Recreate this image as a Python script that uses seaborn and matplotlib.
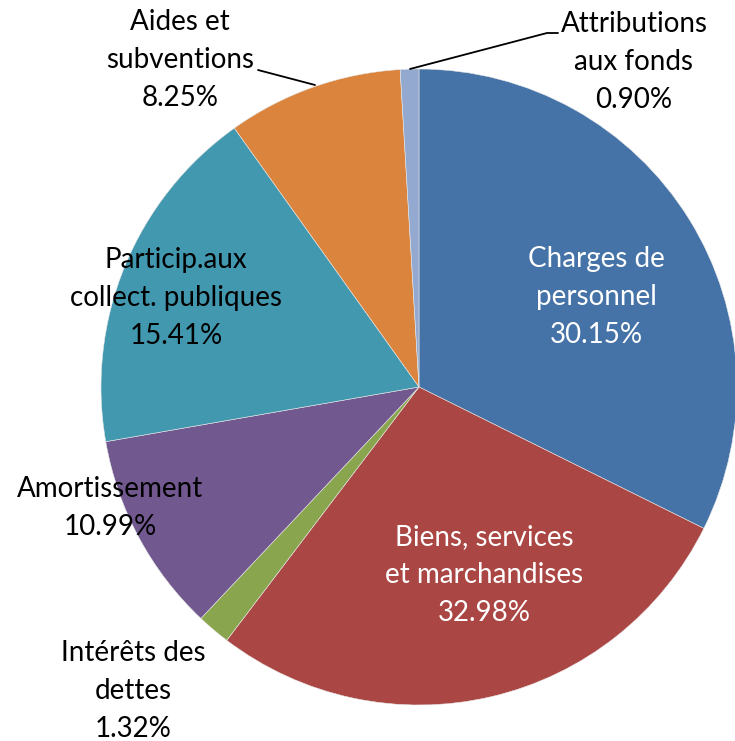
import seaborn as sns
import matplotlib.pyplot as plt

# data
labels = ["Charges de\npersonnel", "Biens, services\net marchandises", "Intérêts des\ndettes",
          "Amortissement", "Particip.aux\ncollect. publiques", "Aides et\nsubventions",
          "Attributions\naux fonds"]
pct_labels = [30.15, 32.98, 1.32, 10.99, 15.41, 8.25, 0.90]
# slice sizes as drawn in the picture (degrees)
wedge_deg = [116.4, 100.8, 6.1, 36.8, 64.4, 32.1, 3.4]
colors = ["#4572A7", "#AA4643", "#89A54E", "#71588F", "#4198AF", "#DB843D", "#93A9CF"]

sns.set_theme(style="white")
plt.rcParams['font.family'] = ['Lato', 'DejaVu Sans']

W, H = 735, 741
fig = plt.figure(figsize=(W / 100, H / 100), dpi=100)
ax = fig.add_axes([0, 0, 1, 1])

cx, cy, r = 419, H - 387, 318
ax.pie(wedge_deg, colors=colors, startangle=90, counterclock=False,
       center=(cx, cy), radius=r, frame=True,
       wedgeprops=dict(linewidth=0.4, edgecolor="#e8e8e8"))
ax.set_xlim(0, W)
ax.set_ylim(0, H)
ax.set_aspect("equal")
ax.axis("off")

# label positions (pixel coords from top)
pos = [(596, 297), (484, 575), (133, 691), (110, 508), (176, 298), (180, 60), (634, 62)]
txtcol = ["white", "white", "black", "black", "black", "black", "black"]
for lab, v, (px, py), c in zip(labels, pct_labels, pos, txtcol):
    ax.text(px, H - py, f"{lab}\n{v:.2f}%", ha="center", va="center",
            fontsize=20, color=c, linespacing=1.55)

# leader lines
ax.plot([258, 315], [H - 70, H - 85], color="black", lw=1.3)
ax.plot([410, 547, 558], [H - 69, H - 33, H - 33], color="black", lw=1.3)

fig.savefig("out.png", dpi=100)
